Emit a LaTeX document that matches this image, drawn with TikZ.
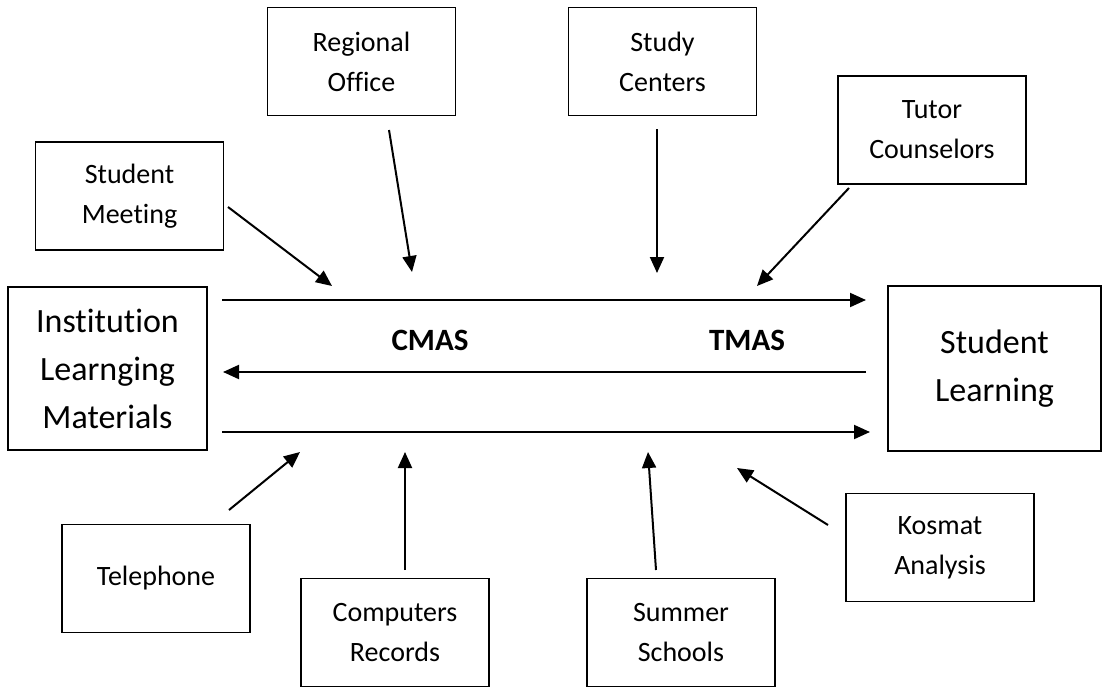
\documentclass[tikz,border=0pt]{standalone}
\usepackage{fontspec}
\setmainfont{Carlito}[Ligatures=NoCommon]
\usetikzlibrary{arrows.meta}

\begin{document}
\begin{tikzpicture}[x=0.5pt,y=-0.5pt,
    >={Triangle[length=8pt,width=7pt]},
    box/.style={draw,line width=0.7pt,align=center,inner sep=0pt,
      minimum width=94pt,minimum height=54pt,font=\fontsize{14}{20}\selectfont},
    bigbox/.style={box,font=\fontsize{17}{24}\selectfont},
    flow/.style={->,line width=1pt},
    tag/.style={font=\fontsize{15.5}{18}\selectfont\bfseries}]
  \useasboundingbox (0,0) rectangle (1105,691);
  % main boxes
  \node[bigbox,minimum width=99.5pt,minimum height=81.5pt] (inst) at (107.5,368.5) {Institution\\Learnging\\Materials};
  \node[bigbox,minimum width=106.5pt,minimum height=82.5pt] (learn) at (994.5,368.5) {Student\\Learning};
  % boxes above
  \node[box] (meet) at (129.5,196) {Student\\Meeting};
  \node[box] (region) at (361.5,61.5) {Regional\\Office};
  \node[box] (centers) at (662.5,61.5) {Study\\Centers};
  \node[box] (tutor) at (932,130) {Tutor\\Counselors};
  % boxes below
  \node[box] (phone) at (156,578.5) {Telephone};
  \node[box] (records) at (395,632.5) {Computers\\Records};
  \node[box] (summer) at (681,632.5) {Summer\\Schools};
  \node[box] (kosmat) at (940,547.5) {Kosmat\\Analysis};
  % labels
  \node[tag] (cmas) at (430,340) {CMAS};
  \node[tag] (tmas) at (747,340) {TMAS};
  % ends of the arrows
  \coordinate (a1) at (222,300); \coordinate (b1) at (866,300);
  \coordinate (a2) at (866,372); \coordinate (b2) at (223,372);
  \coordinate (a3) at (222,432); \coordinate (b3) at (870,432);
  \coordinate (meetA) at (228,207); \coordinate (meetB) at (332,286);
  \coordinate (regionA) at (389,130); \coordinate (regionB) at (412,272);
  \coordinate (centersA) at (657,129); \coordinate (centersB) at (657,273);
  \coordinate (tutorA) at (849,188); \coordinate (tutorB) at (757,286);
  \coordinate (phoneA) at (229,510); \coordinate (phoneB) at (300,452);
  \coordinate (recordsA) at (405,570); \coordinate (recordsB) at (405,452);
  \coordinate (summerA) at (656,570); \coordinate (summerB) at (648,452);
  \coordinate (kosmatA) at (828,525); \coordinate (kosmatB) at (737,468);
  % channels
  \draw[flow] (a1) -- (b1);
  \draw[flow] (a2) -- (b2);
  \draw[flow] (a3) -- (b3);
  % inputs
  \foreach \n in {meet,region,centers,tutor,phone,records,summer,kosmat}
    \draw[flow] (\n A) -- (\n B);
\end{tikzpicture}
\end{document}
